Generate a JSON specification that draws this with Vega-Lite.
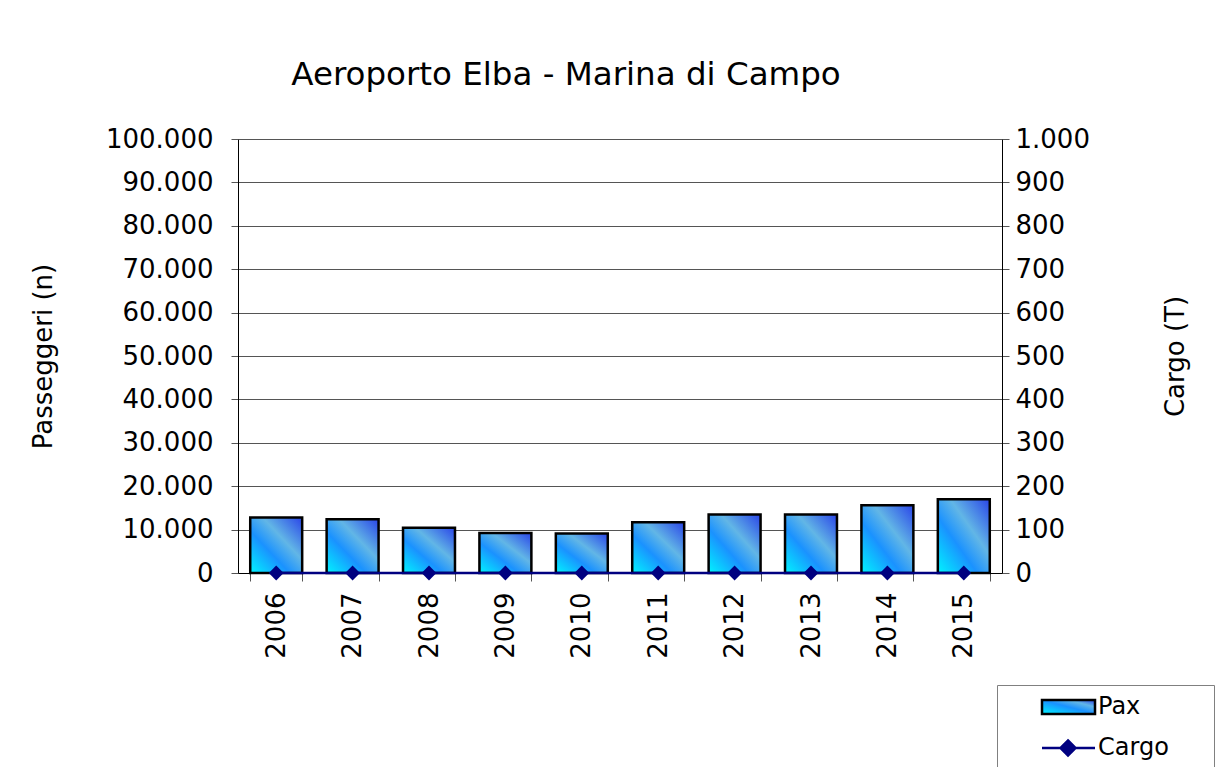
{
  "$schema": "https://vega.github.io/schema/vega-lite/v6.json",
  "width": 764,
  "height": 434,
  "autosize": {"type": "none"},
  "padding": {"left": 238, "top": 139, "right": 216, "bottom": 194},
  "background": "white",
  "config": {"font": "DejaVu Sans", "view": {"stroke": null}},
  "title": {
    "text": "Aeroporto Elba - Marina di Campo",
    "font": "DejaVu Sans",
    "fontSize": 32.5,
    "fontWeight": "normal",
    "color": "black",
    "anchor": "middle",
    "frame": "group",
    "dx": -54,
    "baseline": "alphabetic",
    "offset": 9
  },
  "data": {
    "values": [
      {"anno": "2006", "pax": 12800, "cargo": 0},
      {"anno": "2007", "pax": 12400, "cargo": 0},
      {"anno": "2008", "pax": 10400, "cargo": 0},
      {"anno": "2009", "pax": 9200, "cargo": 0},
      {"anno": "2010", "pax": 9100, "cargo": 0},
      {"anno": "2011", "pax": 11700, "cargo": 0},
      {"anno": "2012", "pax": 13500, "cargo": 0},
      {"anno": "2013", "pax": 13500, "cargo": 0},
      {"anno": "2014", "pax": 15600, "cargo": 0},
      {"anno": "2015", "pax": 17000, "cargo": 0}
    ]
  },
  "encoding": {
    "x": {
      "field": "anno",
      "type": "ordinal",
      "title": null,
      "scale": {"paddingInner": 0.32, "paddingOuter": 0.16},
      "axis": {
        "labelAngle": -90,
        "labelFontSize": 26,
        "labelFont": "DejaVu Sans",
        "labelColor": "black",
        "labelPadding": 11,
        "tickBand": "extent",
        "tickSize": 8,
        "tickColor": "#555",
        "domainColor": "black",
        "domainWidth": 1,
        "grid": false
      }
    }
  },
  "layer": [
    {
      "mark": {
        "type": "bar",
        "fill": {
          "gradient": "linear",
          "x1": 0, "y1": 1, "x2": 1, "y2": 0,
          "stops": [
            {"offset": 0, "color": "#00f4ff"},
            {"offset": 0.38, "color": "#1a92ff"},
            {"offset": 0.62, "color": "#62b6e6"},
            {"offset": 1, "color": "#2a44e8"}
          ]
        },
        "stroke": "black",
        "strokeWidth": 2.5
      },
      "encoding": {
        "y": {
          "field": "pax",
          "type": "quantitative",
          "title": "Passeggeri (n)",
          "scale": {"domain": [0, 100000]},
          "axis": {
            "orient": "left",
            "values": [0, 10000, 20000, 30000, 40000, 50000, 60000, 70000, 80000, 90000, 100000],
            "labelExpr": "replace(format(datum.value, ','), ',', '.')",
            "labelFontSize": 26,
            "labelFont": "DejaVu Sans",
            "labelColor": "black",
            "labelPadding": 18,
            "tickSize": 7,
            "tickColor": "#555",
            "domainColor": "black",
            "grid": true,
            "gridColor": "#555",
            "gridWidth": 1,
            "titleFontSize": 26,
            "titleFont": "DejaVu Sans",
            "titleFontWeight": "normal",
            "titleColor": "black",
            "titlePadding": 49
          }
        }
      }
    },
    {
      "encoding": {
        "y": {
          "field": "cargo",
          "type": "quantitative",
          "title": "Cargo (T)",
          "scale": {"domain": [0, 1000]},
          "axis": {
            "orient": "right",
            "values": [0, 100, 200, 300, 400, 500, 600, 700, 800, 900, 1000],
            "labelExpr": "replace(format(datum.value, ','), ',', '.')",
            "labelFontSize": 26,
            "labelFont": "DejaVu Sans",
            "labelColor": "black",
            "labelPadding": 6,
            "tickSize": 7,
            "tickColor": "#555",
            "domainColor": "black",
            "grid": false,
            "titleFontSize": 26,
            "titleFont": "DejaVu Sans",
            "titleFontWeight": "normal",
            "titleColor": "black",
            "titleAngle": -90,
            "titlePadding": 99
          }
        }
      },
      "layer": [
        {
          "mark": {"type": "line", "strokeWidth": 2.5},
          "encoding": {
            "stroke": {
              "datum": "Cargo",
              "type": "nominal",
              "scale": {"domain": ["Pax", "Cargo"], "range": ["black", "#000080"]},
              "legend": {
                "title": null,
                "orient": "none",
                "legendX": 759,
                "legendY": 546,
                "direction": "vertical",
                "strokeColor": "#808080",
                "fillColor": "white",
                "padding": 10,
                "labelFontSize": 24,
                "labelFont": "DejaVu Sans",
                "labelColor": "black",
                "labelOffset": 67,
                "labelExpr": "datum.label + '\u2800\u2800'",
                "symbolSize": 400,
                "rowPadding": 16,
                "symbolOpacity": 1,
                "symbolStrokeWidth": 2.5,
                "symbolType": {"expr": "datum.value === 'Pax' ? 'M2.3,-0.7H7.6V0.7H2.3Z' : 'M2.3,0H7.6M4.9,-0.75L5.65,0L4.9,0.75L4.15,0Z'"},
                "symbolFillColor": {"expr": "datum.value === 'Pax' ? {gradient: 'linear', x1: 0, y1: 1, x2: 1, y2: 0, stops: [{offset: 0, color: '#00f4ff'}, {offset: 0.5, color: '#1a92ff'}, {offset: 0.75, color: '#62b6e6'}, {offset: 1, color: '#2a44e8'}]} : '#000080'"}
              }
            }
          }
        },
        {
          "mark": {"type": "point", "shape": "diamond", "filled": true, "color": "#000080", "opacity": 1, "size": 220},
          "encoding": {}
        }
      ]
    }
  ],
  "resolve": {"scale": {"y": "independent"}}
}
